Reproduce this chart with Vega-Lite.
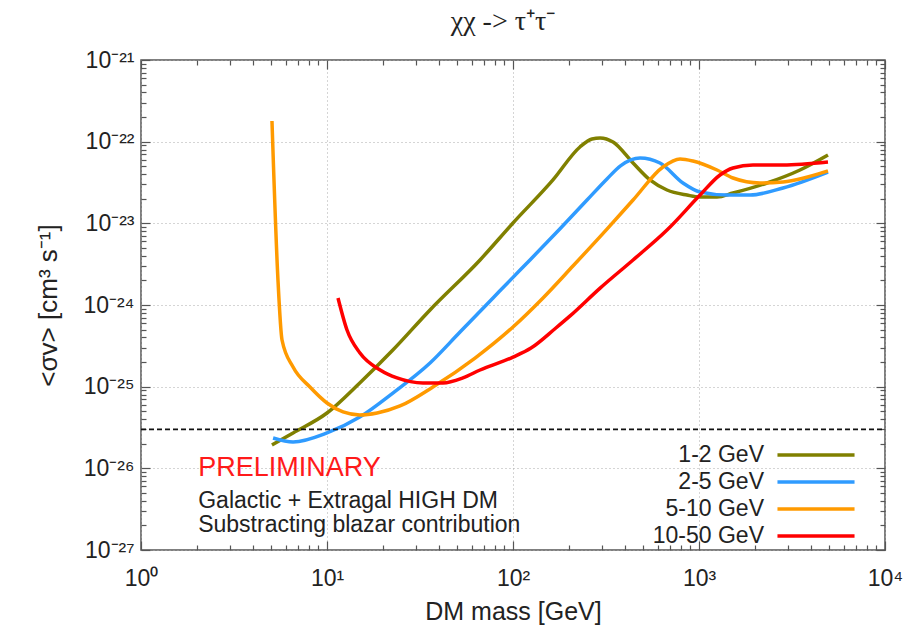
{
  "$schema": "https://vega.github.io/schema/vega-lite/v6.json",
  "width": 744,
  "height": 490,
  "autosize": "none",
  "padding": {"left": 141, "top": 60, "right": 33, "bottom": 79},
  "background": "white",
  "config": {
    "view": {"stroke": "#555", "strokeWidth": 1.5},
    "font": "Liberation Sans"
  },
  "title": {"text": "χχ -> τ⁺τ⁻", "font": "Liberation Sans Narrow", "fontSize": 28, "fontWeight": "normal", "color": "#222", "offset": 13, "anchor": "middle", "dx": -10},
  "datasets": {
    "curves": [
      {"range": "1-2 GeV", "m": 5.06, "sv": 1.93e-26},
      {"range": "1-2 GeV", "m": 6.57, "sv": 2.71e-26},
      {"range": "1-2 GeV", "m": 10, "sv": 4.76e-26},
      {"range": "1-2 GeV", "m": 15.0, "sv": 1.11e-25},
      {"range": "1-2 GeV", "m": 22.6, "sv": 2.81e-25},
      {"range": "1-2 GeV", "m": 35.8, "sv": 8.7e-25},
      {"range": "1-2 GeV", "m": 66.5, "sv": 3.56e-24},
      {"range": "1-2 GeV", "m": 100, "sv": 1.01e-23},
      {"range": "1-2 GeV", "m": 164, "sv": 3.4e-23},
      {"range": "1-2 GeV", "m": 229, "sv": 8.61e-23},
      {"range": "1-2 GeV", "m": 266, "sv": 1.08e-22},
      {"range": "1-2 GeV", "m": 294, "sv": 1.11e-22},
      {"range": "1-2 GeV", "m": 345, "sv": 9.9e-23},
      {"range": "1-2 GeV", "m": 442, "sv": 5.48e-23},
      {"range": "1-2 GeV", "m": 545, "sv": 3.4e-23},
      {"range": "1-2 GeV", "m": 673, "sv": 2.56e-23},
      {"range": "1-2 GeV", "m": 862, "sv": 2.22e-23},
      {"range": "1-2 GeV", "m": 1013, "sv": 2.1e-23},
      {"range": "1-2 GeV", "m": 1250, "sv": 2.1e-23},
      {"range": "1-2 GeV", "m": 1523, "sv": 2.35e-23},
      {"range": "1-2 GeV", "m": 2321, "sv": 3.12e-23},
      {"range": "1-2 GeV", "m": 3491, "sv": 4.5e-23},
      {"range": "1-2 GeV", "m": 4937, "sv": 6.87e-23},

      {"range": "2-5 GeV", "m": 5.13, "sv": 2.35e-26},
      {"range": "2-5 GeV", "m": 6.57, "sv": 2.1e-26},
      {"range": "2-5 GeV", "m": 10, "sv": 2.71e-26},
      {"range": "2-5 GeV", "m": 15.0, "sv": 4.25e-26},
      {"range": "2-5 GeV", "m": 22.6, "sv": 8.36e-26},
      {"range": "2-5 GeV", "m": 35.8, "sv": 1.95e-25},
      {"range": "2-5 GeV", "m": 51.9, "sv": 4.67e-25},
      {"range": "2-5 GeV", "m": 78.1, "sv": 1.22e-24},
      {"range": "2-5 GeV", "m": 100, "sv": 2.18e-24},
      {"range": "2-5 GeV", "m": 123.4, "sv": 3.56e-24},
      {"range": "2-5 GeV", "m": 179, "sv": 8.6e-24},
      {"range": "2-5 GeV", "m": 250, "sv": 1.93e-23},
      {"range": "2-5 GeV", "m": 320, "sv": 3.5e-23},
      {"range": "2-5 GeV", "m": 380, "sv": 5.1e-23},
      {"range": "2-5 GeV", "m": 482, "sv": 6.31e-23},
      {"range": "2-5 GeV", "m": 617, "sv": 5.48e-23},
      {"range": "2-5 GeV", "m": 820, "sv": 3.12e-23},
      {"range": "2-5 GeV", "m": 1013, "sv": 2.42e-23},
      {"range": "2-5 GeV", "m": 1414, "sv": 2.22e-23},
      {"range": "2-5 GeV", "m": 1880, "sv": 2.22e-23},
      {"range": "2-5 GeV", "m": 2829, "sv": 2.71e-23},
      {"range": "2-5 GeV", "m": 4937, "sv": 4.25e-23},

      {"range": "5-10 GeV", "m": 5.06, "sv": 1.79e-22},
      {"range": "5-10 GeV", "m": 5.45, "sv": 2.02e-24},
      {"range": "5-10 GeV", "m": 5.73, "sv": 3.73e-25},
      {"range": "5-10 GeV", "m": 6.57, "sv": 1.74e-25},
      {"range": "5-10 GeV", "m": 8.1, "sv": 9.9e-26},
      {"range": "5-10 GeV", "m": 10, "sv": 6.31e-26},
      {"range": "5-10 GeV", "m": 12.2, "sv": 4.9e-26},
      {"range": "5-10 GeV", "m": 15.0, "sv": 4.5e-26},
      {"range": "5-10 GeV", "m": 18.6, "sv": 4.76e-26},
      {"range": "5-10 GeV", "m": 24.7, "sv": 5.8e-26},
      {"range": "5-10 GeV", "m": 37.1, "sv": 9.9e-26},
      {"range": "5-10 GeV", "m": 62.5, "sv": 2.24e-25},
      {"range": "5-10 GeV", "m": 100, "sv": 5.38e-25},
      {"range": "5-10 GeV", "m": 145, "sv": 1.22e-24},
      {"range": "5-10 GeV", "m": 210, "sv": 3.0e-24},
      {"range": "5-10 GeV", "m": 320, "sv": 8.5e-24},
      {"range": "5-10 GeV", "m": 442, "sv": 1.93e-23},
      {"range": "5-10 GeV", "m": 640, "sv": 4.9e-23},
      {"range": "5-10 GeV", "m": 791, "sv": 6.14e-23},
      {"range": "5-10 GeV", "m": 928, "sv": 5.8e-23},
      {"range": "5-10 GeV", "m": 1250, "sv": 4.5e-23},
      {"range": "5-10 GeV", "m": 1523, "sv": 3.59e-23},
      {"range": "5-10 GeV", "m": 2128, "sv": 3.12e-23},
      {"range": "5-10 GeV", "m": 2829, "sv": 3.21e-23},
      {"range": "5-10 GeV", "m": 4937, "sv": 4.38e-23},

      {"range": "10-50 GeV", "m": 11.46, "sv": 1.22e-24},
      {"range": "10-50 GeV", "m": 12.81, "sv": 4.94e-25},
      {"range": "10-50 GeV", "m": 15.04, "sv": 2.58e-25},
      {"range": "10-50 GeV", "m": 19.3, "sv": 1.6e-25},
      {"range": "10-50 GeV", "m": 23.8, "sv": 1.28e-25},
      {"range": "10-50 GeV", "m": 32.8, "sv": 1.11e-25},
      {"range": "10-50 GeV", "m": 42.0, "sv": 1.11e-25},
      {"range": "10-50 GeV", "m": 53.8, "sv": 1.28e-25},
      {"range": "10-50 GeV", "m": 66.5, "sv": 1.6e-25},
      {"range": "10-50 GeV", "m": 100, "sv": 2.3e-25},
      {"range": "10-50 GeV", "m": 125, "sv": 2.97e-25},
      {"range": "10-50 GeV", "m": 170, "sv": 5.23e-25},
      {"range": "10-50 GeV", "m": 202, "sv": 7.3e-25},
      {"range": "10-50 GeV", "m": 294, "sv": 1.61e-24},
      {"range": "10-50 GeV", "m": 442, "sv": 3.56e-24},
      {"range": "10-50 GeV", "m": 673, "sv": 8.28e-24},
      {"range": "10-50 GeV", "m": 1013, "sv": 2.22e-23},
      {"range": "10-50 GeV", "m": 1297, "sv": 3.91e-23},
      {"range": "10-50 GeV", "m": 1523, "sv": 4.76e-23},
      {"range": "10-50 GeV", "m": 1951, "sv": 5.18e-23},
      {"range": "10-50 GeV", "m": 2829, "sv": 5.18e-23},
      {"range": "10-50 GeV", "m": 4937, "sv": 5.64e-23}
    ],
    "threshold": [
      {"m": 1, "sv": 3e-26},
      {"m": 10000, "sv": 3e-26}
    ]
  },
  "layer": [
    {
      "data": {"name": "curves"},
      "mark": {"type": "line", "strokeWidth": 3.5, "interpolate": "monotone"},
      "encoding": {
        "x": {
          "field": "m", "type": "quantitative",
          "scale": {"type": "log", "domain": [1, 10000], "nice": false},
          "axis": {
            "orient": "bottom",
            "values": [1,2,3,4,5,6,7,8,9,10,20,30,40,50,60,70,80,90,100,200,300,400,500,600,700,800,900,1000,2000,3000,4000,5000,6000,7000,8000,9000,10000],
            "title": "DM mass [GeV]",
            "titleFont": "Liberation Sans", "titleFontSize": 25, "titleFontWeight": "normal", "titleColor": "#222", "titlePadding": 5,
            "labelFont": "Liberation Sans", "labelFontSize": 23, "labelColor": "#222", "labelPadding": 26,
            "labelOverlap": false, "labelFlush": false,
            "labelExpr": "datum.value == 1 ? '10⁰' : datum.value == 10 ? '10¹' : datum.value == 100 ? '10²' : datum.value == 1000 ? '10³' : datum.value == 10000 ? '10⁴' : ''",
            "domain": false,
            "grid": true, "gridColor": "#aaa", "gridDash": [1, 3], "gridWidth": 1,
            "gridOpacity": {"condition": {"test": "indexof([1,10,100,1000,10000], datum.value) >= 0", "value": 1}, "value": 0},
            "tickColor": "#555", "tickWidth": 1.2,
            "tickSize": {"condition": {"test": "indexof([1,10,100,1000,10000], datum.value) >= 0", "value": -9}, "value": -5}
          }
        },
        "y": {
          "field": "sv", "type": "quantitative",
          "scale": {"type": "log", "domain": [1e-27, 1e-21], "nice": false},
          "axis": {
            "orient": "left",
            "values": [1e-27,2e-27,3e-27,4e-27,5e-27,6e-27,7e-27,8e-27,9e-27,1e-26,2e-26,3e-26,4e-26,5e-26,6e-26,7e-26,8e-26,9e-26,1e-25,2e-25,3e-25,4e-25,5e-25,6e-25,7e-25,8e-25,9e-25,1e-24,2e-24,3e-24,4e-24,5e-24,6e-24,7e-24,8e-24,9e-24,1e-23,2e-23,3e-23,4e-23,5e-23,6e-23,7e-23,8e-23,9e-23,1e-22,2e-22,3e-22,4e-22,5e-22,6e-22,7e-22,8e-22,9e-22,1e-21],
            "title": "<σv> [cm³ s⁻¹]",
            "titleFont": "Liberation Sans", "titleFontSize": 26, "titleFontWeight": "normal", "titleColor": "#222", "titlePadding": 21,
            "labelFont": "Liberation Sans", "labelFontSize": 23, "labelColor": "#222", "labelPadding": 16,
            "labelOverlap": false, "labelFlush": false,
            "labelExpr": "datum.value == 1e-21 ? '10⁻²¹' : datum.value == 1e-22 ? '10⁻²²' : datum.value == 1e-23 ? '10⁻²³' : datum.value == 1e-24 ? '10⁻²⁴' : datum.value == 1e-25 ? '10⁻²⁵' : datum.value == 1e-26 ? '10⁻²⁶' : datum.value == 1e-27 ? '10⁻²⁷' : ''",
            "domain": false,
            "grid": true, "gridColor": "#aaa", "gridDash": [1, 3], "gridWidth": 1,
            "gridOpacity": {"condition": {"test": "indexof([1e-21,1e-22,1e-23,1e-24,1e-25,1e-26,1e-27], datum.value) >= 0", "value": 1}, "value": 0},
            "tickColor": "#555", "tickWidth": 1.2,
            "tickSize": {"condition": {"test": "indexof([1e-21,1e-22,1e-23,1e-24,1e-25,1e-26,1e-27], datum.value) >= 0", "value": -9}, "value": -5}
          }
        },
        "color": {
          "field": "range", "type": "nominal",
          "scale": {"domain": ["1-2 GeV", "2-5 GeV", "5-10 GeV", "10-50 GeV"], "range": ["#808000", "#2f9bff", "#ff9a00", "#ff0000"]},
          "legend": {
            "orient": "none", "legendX": 660, "legendY": 380,
            "title": null,
            "labelFont": "Liberation Sans", "labelFontSize": 23, "labelColor": "#222",
            "labelAlign": "right", "labelOffset": -67,
            "symbolType": "M-3,0H3", "symbolSize": 660, "symbolStrokeWidth": 3.5,
            "rowPadding": -2.6, "padding": 0
          }
        }
      }
    },
    {
      "data": {"name": "threshold"},
      "mark": {"type": "line", "stroke": "#111", "strokeWidth": 1.8, "strokeDash": [5, 3]},
      "encoding": {
        "x": {
          "field": "m", "type": "quantitative",
          "axis": {
            "orient": "top", "title": null, "labels": false, "grid": false, "domain": false,
            "values": [1,2,3,4,5,6,7,8,9,10,20,30,40,50,60,70,80,90,100,200,300,400,500,600,700,800,900,1000,2000,3000,4000,5000,6000,7000,8000,9000,10000],
            "tickColor": "#555", "tickWidth": 1.2,
            "tickSize": {"condition": {"test": "indexof([1,10,100,1000,10000], datum.value) >= 0", "value": -9}, "value": -5}
          }
        },
        "y": {
          "field": "sv", "type": "quantitative",
          "axis": {
            "orient": "right", "title": null, "labels": false, "grid": false, "domain": false,
            "values": [1e-27,2e-27,3e-27,4e-27,5e-27,6e-27,7e-27,8e-27,9e-27,1e-26,2e-26,3e-26,4e-26,5e-26,6e-26,7e-26,8e-26,9e-26,1e-25,2e-25,3e-25,4e-25,5e-25,6e-25,7e-25,8e-25,9e-25,1e-24,2e-24,3e-24,4e-24,5e-24,6e-24,7e-24,8e-24,9e-24,1e-23,2e-23,3e-23,4e-23,5e-23,6e-23,7e-23,8e-23,9e-23,1e-22,2e-22,3e-22,4e-22,5e-22,6e-22,7e-22,8e-22,9e-22,1e-21],
            "tickColor": "#555", "tickWidth": 1.2,
            "tickSize": {"condition": {"test": "indexof([1e-21,1e-22,1e-23,1e-24,1e-25,1e-26,1e-27], datum.value) >= 0", "value": -9}, "value": -5}
          }
        }
      }
    },
    {
      "data": {"values": [{}]},
      "mark": {"type": "text", "text": "PRELIMINARY", "align": "left", "baseline": "middle", "font": "Liberation Sans", "fontSize": 27, "color": "#ff1a1a"},
      "encoding": {
        "x": {"datum": 2.03, "type": "quantitative", "axis": null},
        "y": {"datum": 1.0e-26, "type": "quantitative", "axis": null}
      }
    },
    {
      "data": {"values": [{}]},
      "mark": {"type": "text", "text": "Galactic + Extragal HIGH DM", "align": "left", "baseline": "alphabetic", "font": "Liberation Sans", "fontSize": 23, "color": "#222"},
      "encoding": {
        "x": {"datum": 2.03, "type": "quantitative", "axis": null},
        "y": {"datum": 3.27e-27, "type": "quantitative", "axis": null}
      }
    },
    {
      "data": {"values": [{}]},
      "mark": {"type": "text", "text": "Substracting blazar contribution", "align": "left", "baseline": "alphabetic", "font": "Liberation Sans", "fontSize": 23, "color": "#222"},
      "encoding": {
        "x": {"datum": 2.03, "type": "quantitative", "axis": null},
        "y": {"datum": 1.66e-27, "type": "quantitative", "axis": null}
      }
    }
  ],
  "resolve": {"axis": {"x": "independent", "y": "independent"}}
}
